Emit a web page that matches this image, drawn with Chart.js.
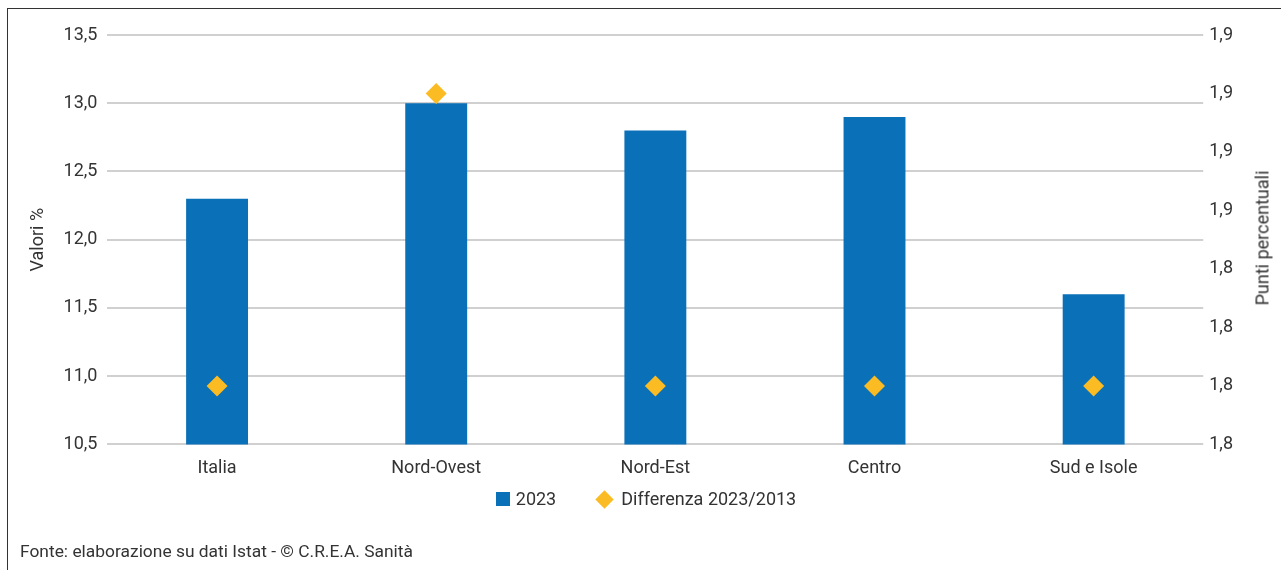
<!DOCTYPE html>
<html><head><meta charset="utf-8">
<script src="https://cdn.jsdelivr.net/npm/chart.js@4/dist/chart.umd.min.js"></script>
<style>
html,body{margin:0;padding:0;background:#fff;}
#wrap{position:relative;width:1281px;height:570px;overflow:hidden;font-family:"Liberation Sans Narrow","Roboto",sans-serif;color:#333;}
#frame{position:absolute;left:7px;top:8px;width:1290px;height:600px;border-left:1.5px solid #333;border-top:1.5px solid #333;}
#c{position:absolute;left:0;top:0;}
#src{position:absolute;left:20px;top:541px;font-size:17.4px;}
#rtitle{position:absolute;left:1262px;top:238px;transform:translate(-50%,-50%) rotate(-90deg);font-size:18px;white-space:nowrap;}
#legend{position:absolute;left:0;width:1292px;top:488px;display:flex;justify-content:center;gap:38px;font-size:18px;}
.li{display:flex;align-items:center;gap:6px;line-height:22px;}
.sq{width:14px;height:14px;background:#0a70b8;display:inline-block;}
.dm{width:13px;height:13px;background:#fbbb22;display:inline-block;transform:rotate(45deg);margin:0 4px;}
</style></head>
<body>
<div id="wrap">
<div id="frame"></div>
<canvas id="c" width="1281" height="570"></canvas>
<div id="rtitle"></div>
<div id="legend"></div>
<div id="src">Fonte: elaborazione su dati Istat - © C.R.E.A. Sanità</div>
</div>
<script>
const categories = ["Italia", "Nord-Ovest", "Nord-Est", "Centro", "Sud e Isole"];
const values2023 = [12.3, 13.0, 12.8, 12.9, 11.6];
const diff2023_2013 = [1.80, 1.90, 1.80, 1.80, 1.80];
const leftTicks = [10.5, 11.0, 11.5, 12.0, 12.5, 13.0, 13.5];
const rightTicks = [1.78, 1.80, 1.82, 1.84, 1.86, 1.88, 1.90, 1.92];
const seriesNames = ["2023", "Differenza 2023/2013"];
const leftTitle = "Valori %";
const rightTitle = "Punti percentuali";

const FONT = '"Liberation Sans Narrow", "Roboto", sans-serif';
Chart.defaults.font.family = FONT;
Chart.defaults.color = '#333';

document.getElementById('rtitle').textContent = rightTitle;
const lg = document.getElementById('legend');
lg.innerHTML = '<span class="li"><span class="sq"></span><span></span></span><span class="li"><span class="dm"></span><span></span></span>';
lg.children[0].children[1].textContent = seriesNames[0];
lg.children[1].children[1].textContent = seriesNames[1];

const fmt1 = v => v.toFixed(1).replace('.', ',');

new Chart(document.getElementById('c'), {
  data: {
    labels: categories,
    datasets: [
      { type: 'line', label: seriesNames[1], data: diff2023_2013, yAxisID: 'y2',
        showLine: false, pointStyle: 'rectRot', pointRadius: 10.5, pointHoverRadius: 10.5,
        backgroundColor: '#fbbb22', borderColor: '#fbbb22', borderWidth: 0, order: 0 },
      { type: 'bar', label: seriesNames[0], data: values2023, yAxisID: 'y',
        backgroundColor: '#0a70b8', borderWidth: 0,
        barPercentage: 0.565, categoryPercentage: 0.5, order: 1 }
    ]
  },
  options: {
    responsive: false, animation: false,
    layout: { padding: { left: 24, right: 42, top: 35, bottom: 86 } },
    plugins: { legend: { display: false }, tooltip: { enabled: false } },
    scales: {
      x: { grid: { display: false }, border: { display: false },
        ticks: { font: { size: 18 }, color: '#333', padding: 5 } },
      y: { position: 'left', min: 10.5, max: 13.5,
        afterBuildTicks: ax => { ax.ticks = leftTicks.map(v => ({ value: v })); },
        ticks: { callback: v => fmt1(v), font: { size: 18 }, color: '#333', padding: 10 },
        grid: { color: '#d0d0d0', lineWidth: 2, drawTicks: false },
        border: { display: false },
        title: { display: true, text: leftTitle, font: { size: 18 }, color: '#333', padding: { bottom: 4 } } },
      y2: { position: 'right', min: 1.78, max: 1.92,
        afterBuildTicks: ax => { ax.ticks = rightTicks.map(v => ({ value: v })); },
        ticks: { callback: v => fmt1(v), font: { size: 18 }, color: '#333', padding: 6 },
        grid: { display: false, drawTicks: false }, border: { display: false } }
    }
  }
});
</script>
</body></html>
